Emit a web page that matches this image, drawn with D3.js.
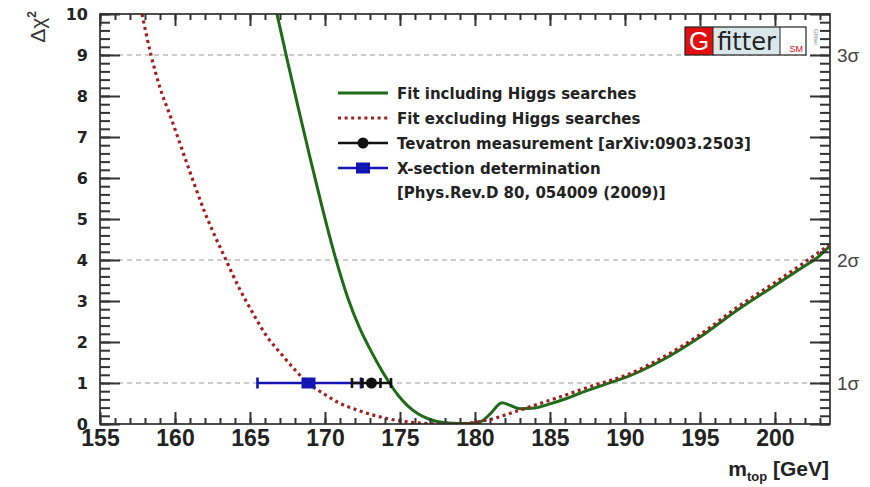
<!DOCTYPE html>
<html>
<head>
<meta charset="utf-8">
<script src="https://cdn.jsdelivr.net/npm/d3@7/dist/d3.min.js"></script>
</head>
<body style="margin:0">
<div id="chart"></div>
<script>
const W = 870, H = 487;
const MARGIN = { top: 14, right: 40, bottom: 63, left: 100 };

// Δχ² scan vs m_top, fit excluding Higgs searches (dotted red)
const fitExclHiggs = [
  [157.8, 10.0], [158.4, 9.0], [159.0, 8.2], [159.7, 7.5], [160.8, 6.35],
  [162.0, 5.15], [163.4, 4.0], [164.3, 3.3], [165.2, 2.7], [166.1, 2.15],
  [167.1, 1.7], [168.0, 1.32], [168.8, 1.02], [170.0, 0.72], [171.0, 0.5],
  [172.0, 0.36], [173.0, 0.24], [174.3, 0.12], [175.5, 0.05], [176.5, 0.02],
  [177.5, 0.0], [178.5, 0.0], [179.5, 0.02], [180.5, 0.07], [181.5, 0.16],
  [182.5, 0.28], [183.5, 0.4], [185.0, 0.58], [186.0, 0.7], [187.0, 0.83],
  [188.0, 0.95], [189.0, 1.06], [190.0, 1.18], [192.5, 1.62], [195.0, 2.18],
  [197.5, 2.85], [200.0, 3.45], [202.0, 3.95], [203.6, 4.36],
];

// fit including Higgs searches (solid green)
const fitInclHiggs = [
  [166.8, 10.0], [167.5, 8.85], [168.2, 7.74], [169.0, 6.5], [169.8, 5.3],
  [170.7, 4.05], [171.5, 3.1], [172.3, 2.35], [173.1, 1.76], [173.7, 1.36],
  [174.3, 1.0], [174.9, 0.69], [175.5, 0.45], [176.2, 0.25], [177.0, 0.11],
  [178.0, 0.03], [179.0, 0.01], [180.0, 0.02],
  [180.5, 0.08], [181.0, 0.24], [181.8, 0.52], [182.3, 0.46], [183.0, 0.37],
  [184.0, 0.39], [185.0, 0.49], [186.0, 0.61], [187.0, 0.75], [188.0, 0.88],
  [189.0, 1.01], [190.0, 1.13], [192.5, 1.56], [195.0, 2.12], [197.5, 2.78],
  [200.0, 3.38], [202.0, 3.86], [202.8, 4.05], [203.6, 4.32],
];

// measurements drawn at Δχ² = 1
const tevatron = { center: 173.1, lo: 171.8, hi: 174.4, statLo: 172.5, statHi: 173.7 };
const xsection = { center: 168.9, lo: 165.5, hi: 172.4 };

const sigmaLevels = [1, 2, 3];
const xDomain = [155, 203.67];
const yDomain = [0, 10];
const xMajor = d3.range(155, 204, 5);
const xMinor = d3.range(155, 204, 1);
const yMajor = d3.range(0, 11, 1);
const yMinor = d3.range(0, 10.01, 0.2);

const legendRows = [
  { key: "incl", text: ["Fit including Higgs searches"] },
  { key: "excl", text: ["Fit excluding Higgs searches"] },
  { key: "tev", text: ["Tevatron measurement [arXiv:0903.2503]"] },
  { key: "xsec", text: ["X-section determination", "[Phys.Rev.D 80, 054009 (2009)]"] },
];

const COLORS = { incl: "#1f6b18", excl: "#a31e1e", tev: "#111", xsec: "#1414b4" };
const TICK_COLOR = "#333";
const SANS = "Liberation Sans, Arial, sans-serif";
const WIDE = "DejaVu Sans, sans-serif";

const svg = d3.select("#chart").append("svg").attr("width", W).attr("height", H);
svg.append("rect").attr("width", W).attr("height", H).attr("fill", "#fff");

const x = d3.scaleLinear().domain(xDomain).range([MARGIN.left, W - MARGIN.right]);
const y = d3.scaleLinear().domain(yDomain).range([H - MARGIN.bottom, MARGIN.top]);
const xLeft = x(xDomain[0]), xRight = x(xDomain[1]);
const yBot = y(0), yTop = y(10);

const defs = svg.append("defs");
defs.append("clipPath").attr("id", "plot-clip")
  .append("rect")
  .attr("x", xLeft).attr("y", yTop)
  .attr("width", xRight - xLeft)
  .attr("height", yBot - yTop);

// dashed sigma lines
svg.append("g")
  .selectAll("line")
  .data(sigmaLevels)
  .join("line")
  .attr("x1", xLeft).attr("x2", xRight)
  .attr("y1", (s) => y(s * s)).attr("y2", (s) => y(s * s))
  .attr("stroke", "#999").attr("stroke-width", 1.2).attr("stroke-dasharray", "5,4");

// tick labels from d3 axes
svg.append("g")
  .attr("transform", `translate(0,${yBot})`)
  .call(d3.axisBottom(x).tickValues(xMajor).tickSize(0).tickPadding(6).tickFormat(d3.format("d")))
  .call((g) => g.select(".domain").remove())
  .call((g) => g.selectAll("text").attr("font-family", SANS).attr("font-weight", "bold")
    .attr("font-size", 23).attr("fill", "#222"));
svg.append("g")
  .attr("transform", `translate(${xLeft},0)`)
  .call(d3.axisLeft(y).tickValues(yMajor).tickSize(0).tickPadding(12).tickFormat(d3.format("d")))
  .call((g) => g.select(".domain").remove())
  .call((g) => g.selectAll("text").attr("font-family", WIDE).attr("font-weight", "bold")
    .attr("font-size", 16).attr("fill", "#222"));

// sigma labels on the right
svg.append("g")
  .selectAll("text")
  .data(sigmaLevels)
  .join("text")
  .attr("x", xRight + 7)
  .attr("y", (s) => y(s * s) + 7)
  .attr("font-family", SANS)
  .attr("font-size", 19)
  .attr("fill", "#444")
  .text((s) => `${s}σ`);

// curves
const curveLine = d3.line().x((d) => x(d[0])).y((d) => y(d[1])).curve(d3.curveMonotoneX);
const curves = svg.append("g").attr("clip-path", "url(#plot-clip)");
curves.append("path")
  .datum(fitInclHiggs)
  .attr("d", curveLine)
  .attr("fill", "none").attr("stroke", COLORS.incl).attr("stroke-width", 3);
curves.append("path")
  .datum(fitExclHiggs)
  .attr("d", curveLine)
  .attr("fill", "none").attr("stroke", COLORS.excl).attr("stroke-width", 3.2)
  .attr("stroke-dasharray", "3,3.6");

// measurement error bars
function errorBar(g, m, color, capH) {
  const yy = y(1);
  g.append("line").attr("x1", x(m.lo)).attr("x2", x(m.hi)).attr("y1", yy).attr("y2", yy)
    .attr("stroke", color).attr("stroke-width", 2.6);
  const caps = [m.lo, m.hi].concat(m.statLo ? [m.statLo, m.statHi] : []);
  g.selectAll(null).data(caps).join("line")
    .attr("x1", (d) => x(d)).attr("x2", (d) => x(d))
    .attr("y1", yy - capH / 2).attr("y2", yy + capH / 2)
    .attr("stroke", color).attr("stroke-width", 2.6);
}
const meas = svg.append("g");
errorBar(meas, xsection, COLORS.xsec, 11);
meas.append("rect")
  .attr("x", x(xsection.center) - 7).attr("y", y(1) - 5.5)
  .attr("width", 14).attr("height", 11).attr("fill", COLORS.xsec);
errorBar(meas, tevatron, COLORS.tev, 10);
meas.append("circle")
  .attr("cx", x(tevatron.center)).attr("cy", y(1)).attr("r", 5.5).attr("fill", COLORS.tev);

// legend
const legend = svg.append("g");
const rowY = [93, 118, 143, 168];
legendRows.forEach((row, i) => {
  const ly = rowY[i];
  const g = legend.append("g");
  const ln = g.append("line").attr("x1", 338).attr("x2", 388).attr("y1", ly).attr("y2", ly)
    .attr("stroke", COLORS[row.key]).attr("stroke-width", row.key === "incl" ? 3 : 2.6);
  if (row.key === "excl") ln.attr("stroke-width", 3.2).attr("stroke-dasharray", "3,3.6");
  if (row.key === "tev") g.append("circle").attr("cx", 363).attr("cy", ly).attr("r", 5.5).attr("fill", COLORS.tev);
  if (row.key === "xsec") g.append("rect").attr("x", 356).attr("y", ly - 5.5).attr("width", 14).attr("height", 11).attr("fill", COLORS.xsec);
  row.text.forEach((t, j) => {
    g.append("text").attr("x", 397).attr("y", ly + 5.5 + j * 24)
      .attr("font-family", WIDE).attr("font-weight", "bold").attr("font-size", 15).attr("fill", "#222")
      .text(t);
  });
});

// Gfitter logo
const logo = svg.append("g").attr("transform", "translate(685,27)");
logo.append("rect").attr("width", 28).attr("height", 28).attr("fill", "#e01010");
logo.append("rect").attr("x", 28).attr("width", 67).attr("height", 28).attr("fill", "#d9e7e8");
logo.append("rect").attr("x", 95).attr("width", 26).attr("height", 28).attr("fill", "#fff");
logo.append("rect").attr("width", 121).attr("height", 28).attr("fill", "none").attr("stroke", "#222").attr("stroke-width", 1.2);
logo.append("line").attr("x1", 28).attr("x2", 28).attr("y1", 0).attr("y2", 28).attr("stroke", "#222");
logo.append("line").attr("x1", 95).attr("x2", 95).attr("y1", 0).attr("y2", 28).attr("stroke", "#222");
logo.append("text").attr("x", 14).attr("y", 23).attr("text-anchor", "middle")
  .attr("font-family", SANS).attr("font-size", 26).attr("fill", "#fff").text("G");
logo.append("text").attr("x", 61.5).attr("y", 22.5).attr("text-anchor", "middle")
  .attr("font-family", WIDE).attr("font-size", 24).attr("fill", "#222").text("fitter");
logo.append("text").attr("x", 118).attr("y", 25).attr("text-anchor", "end")
  .attr("font-family", SANS).attr("font-size", 9).attr("fill", "#e01010").text("SM");
logo.append("text").attr("transform", "translate(129,2) rotate(90)")
  .attr("font-family", SANS).attr("font-size", 6).attr("fill", "#888").text("Gfitter");

// axis titles
svg.append("text")
  .attr("transform", "translate(45,11) rotate(-90)")
  .attr("text-anchor", "end")
  .attr("font-family", SANS)
  .attr("font-size", 21).attr("fill", "#333")
  .call((t) => {
    t.append("tspan").text("Δχ");
    t.append("tspan").attr("dy", -9).attr("font-size", 12).attr("font-weight", "bold").text("2");
  });

svg.append("text")
  .attr("x", 829).attr("y", 476)
  .attr("text-anchor", "end")
  .attr("font-family", SANS)
  .attr("font-size", 21).attr("font-weight", "bold").attr("fill", "#222")
  .call((t) => {
    t.append("tspan").text("m");
    t.append("tspan").attr("dy", 5).attr("font-size", 13).text("top");
    t.append("tspan").attr("dy", -5).text(" [GeV]");
  });

// frame
svg.append("rect")
  .attr("x", xLeft).attr("y", yTop)
  .attr("width", xRight - xLeft)
  .attr("height", yBot - yTop)
  .attr("fill", "none").attr("stroke", "#222").attr("stroke-width", 1.6);

// inward tick marks on all four sides (ROOT style), from d3 axes
function inwardTicks(axis, transform) {
  svg.append("g")
    .attr("transform", transform)
    .call(axis.tickFormat(""))
    .call((g) => g.select(".domain").remove())
    .call((g) => g.selectAll(".tick line").attr("stroke", TICK_COLOR).attr("stroke-width", 2));
}
inwardTicks(d3.axisBottom(x).tickValues(xMinor).tickSize(-6), `translate(0,${yBot})`);
inwardTicks(d3.axisBottom(x).tickValues(xMajor).tickSize(-12), `translate(0,${yBot})`);
inwardTicks(d3.axisTop(x).tickValues(xMinor).tickSize(-6), `translate(0,${yTop})`);
inwardTicks(d3.axisTop(x).tickValues(xMajor).tickSize(-12), `translate(0,${yTop})`);
inwardTicks(d3.axisLeft(y).tickValues(yMinor).tickSize(-10), `translate(${xLeft},0)`);
inwardTicks(d3.axisLeft(y).tickValues(yMajor).tickSize(-20), `translate(${xLeft},0)`);
inwardTicks(d3.axisRight(y).tickValues(yMinor).tickSize(-10), `translate(${xRight},0)`);
inwardTicks(d3.axisRight(y).tickValues(yMajor).tickSize(-20), `translate(${xRight},0)`);
</script>
</body>
</html>
